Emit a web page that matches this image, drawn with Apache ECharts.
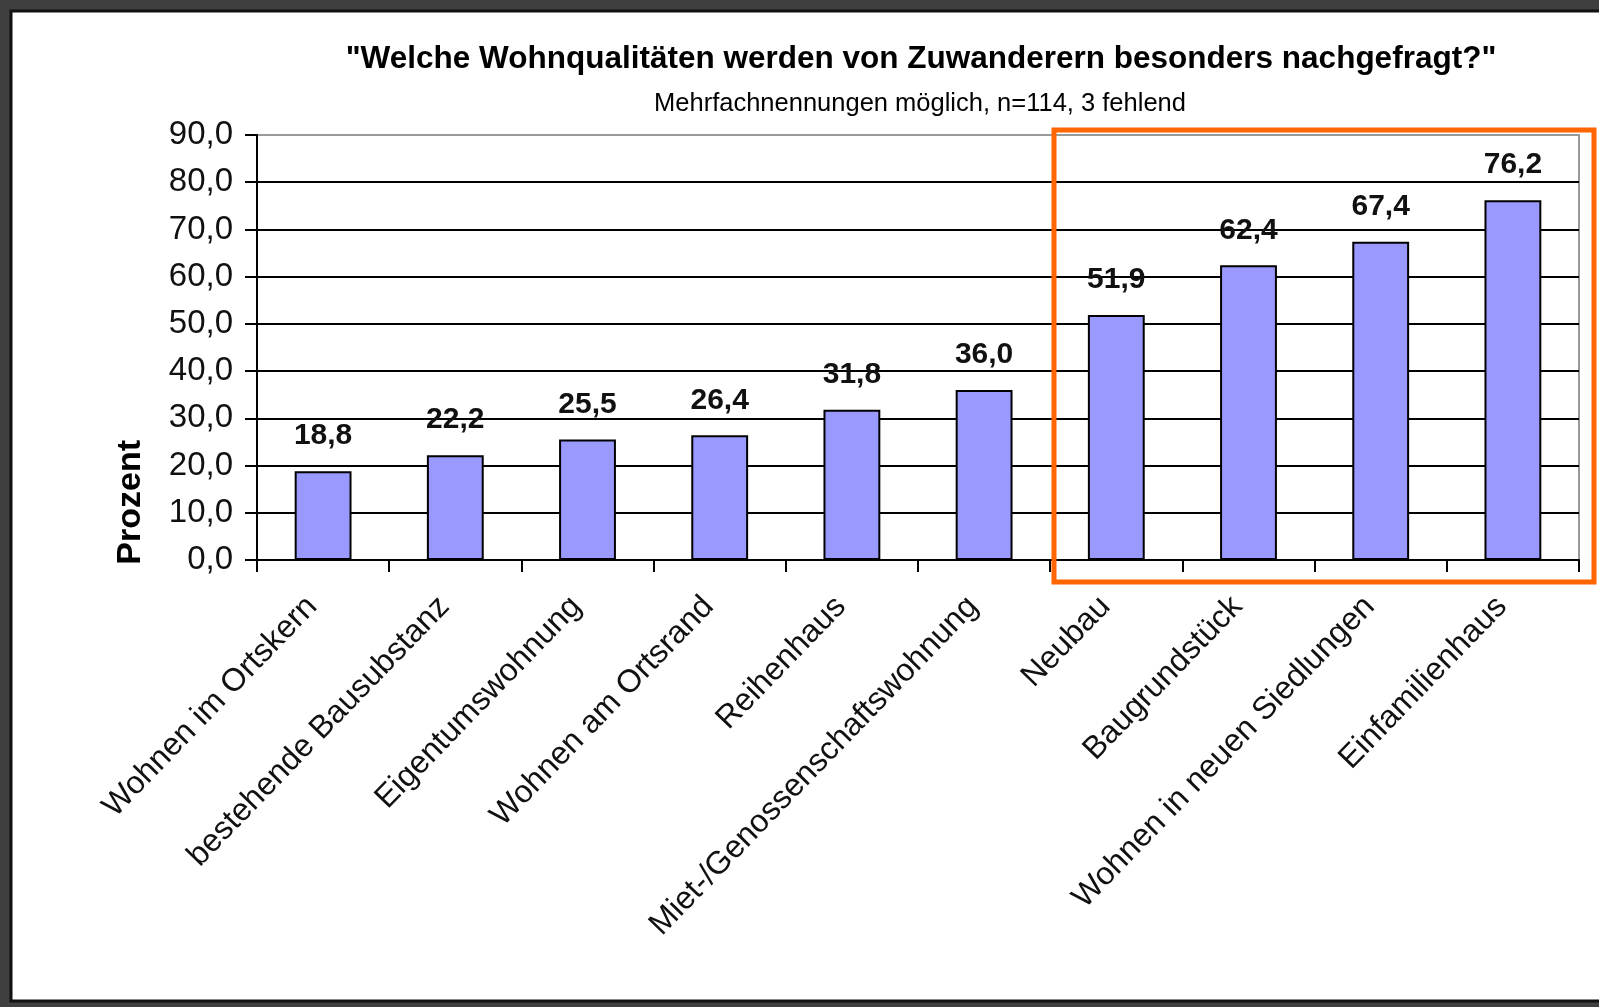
<!DOCTYPE html>
<html>
<head>
<meta charset="utf-8">
<script src="https://cdn.jsdelivr.net/npm/echarts@6/dist/echarts.min.js"></script>
<style>
  html, body { margin: 0; padding: 0; background: #3f3f3f; }
  #chart { width: 1599px; height: 1007px; }
</style>
</head>
<body>
<div id="chart"></div>
<script>
const categories = [
  'Wohnen im Ortskern',
  'bestehende Bausubstanz',
  'Eigentumswohnung',
  'Wohnen am Ortsrand',
  'Reihenhaus',
  'Miet-/Genossenschaftswohnung',
  'Neubau',
  'Baugrundstück',
  'Wohnen in neuen Siedlungen',
  'Einfamilienhaus'
];
const percentValues = [18.8, 22.2, 25.5, 26.4, 31.8, 36.0, 51.9, 62.4, 67.4, 76.2];
const yTicks = { min: 0, max: 90, interval: 10 };

const titleText = '"Welche Wohnqualitäten werden von Zuwanderern besonders nachgefragt?"';
const subtitleText = 'Mehrfachnennungen möglich, n=114, 3 fehlend';
const axisTitle = 'Prozent';

const sans = '"Liberation Sans", Arial, sans-serif';

// German decimal comma
const fmt = (v) => Number(v).toFixed(1).replace('.', ',');

const chart = echarts.init(document.getElementById('chart'), null, { renderer: 'canvas' });

chart.setOption({
  backgroundColor: '#3f3f3f',
  animation: false,
  textStyle: { fontFamily: sans, color: '#000' },
  graphic: [
    {
      // white sheet with black frame
      type: 'rect',
      z: -10,
      shape: { x: 11, y: 11, width: 1600, height: 990 },
      style: { fill: '#ffffff', stroke: '#111', lineWidth: 3 }
    },
    {
      type: 'text',
      left: 114,
      top: 440,
      rotation: Math.PI / 2,
      style: {
        text: axisTitle,
        font: 'bold 34px ' + sans,
        fill: '#000'
      }
    },
    {
      // orange highlight box
      type: 'rect',
      z: 100,
      shape: { x: 1054, y: 130, width: 540, height: 452 },
      style: { fill: 'none', stroke: '#ff6600', lineWidth: 5 }
    }
  ],
  title: [
    {
      text: titleText,
      left: 916,
      top: 38,
      textAlign: 'center',
      textStyle: { fontFamily: sans, fontSize: 31.5, fontWeight: 'bold', color: '#000' }
    },
    {
      text: subtitleText,
      left: 915,
      top: 86,
      textAlign: 'center',
      textStyle: { fontFamily: sans, fontSize: 25.5, fontWeight: 'normal', color: '#000' }
    }
  ],
  grid: {
    left: 257,
    right: 20,
    top: 135,
    bottom: 447,
    containLabel: false,
    show: true,
    borderColor: '#9a9a9a',
    borderWidth: 2,
    backgroundColor: 'transparent'
  },
  xAxis: {
    type: 'category',
    data: categories,
    boundaryGap: true,
    axisLine: { lineStyle: { color: '#000', width: 2 } },
    axisTick: { show: true, length: 12, inside: false, alignWithLabel: false, lineStyle: { color: '#000', width: 2 } },
    axisLabel: {
      interval: 0,
      rotate: 46,
      margin: 30,
      padding: [0, 16, 0, 0],
      fontFamily: sans,
      fontSize: 32,
      color: '#111'
    },
    splitLine: { show: false }
  },
  yAxis: {
    type: 'value',
    min: yTicks.min,
    max: yTicks.max,
    interval: yTicks.interval,
    axisLine: { show: true, lineStyle: { color: '#000', width: 2 } },
    axisTick: { show: true, length: 12, lineStyle: { color: '#000', width: 2 } },
    axisLabel: {
      formatter: fmt,
      margin: 24,
      fontFamily: sans,
      fontSize: 33,
      color: '#111'
    },
    splitLine: { show: true, showMaxLine: false, lineStyle: { color: '#000', width: 2 } }
  },
  series: [
    {
      type: 'bar',
      data: percentValues,
      barWidth: '43%',
      itemStyle: { color: '#9999ff', borderColor: '#000', borderWidth: 2 },
      label: {
        show: true,
        position: 'top',
        distance: 20,
        formatter: (p) => fmt(p.value),
        fontFamily: sans,
        fontSize: 30,
        fontWeight: 'bold',
        color: '#111'
      }
    }
  ]
});
</script>
</body>
</html>
